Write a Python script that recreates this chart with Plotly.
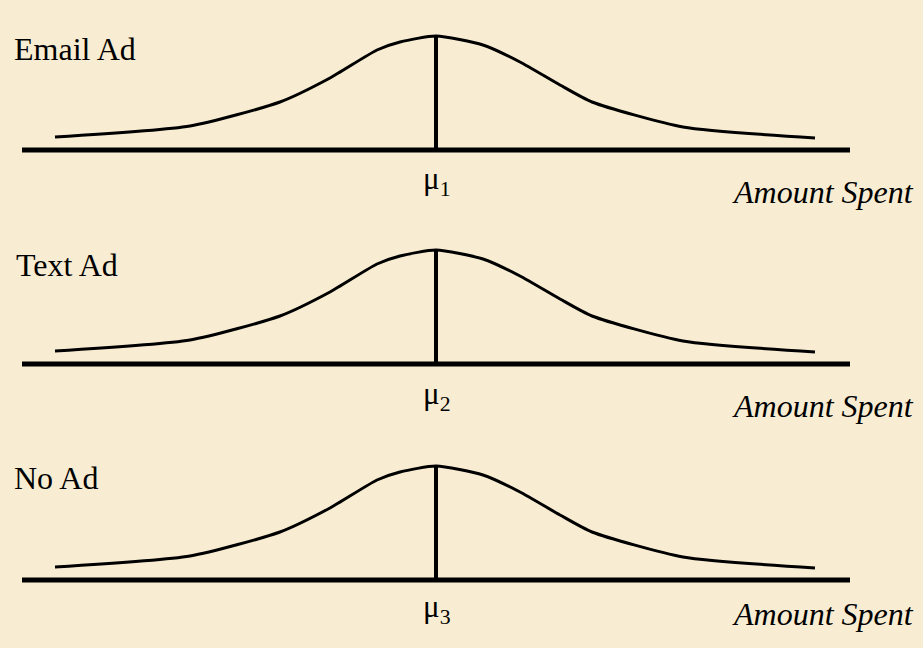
import plotly.graph_objects as go
from plotly.subplots import make_subplots

# Data (amount relative to group mean, curve height)
groups = ["Email Ad", "Text Ad", "No Ad"]
means = ["μ<sub>1</sub>", "μ<sub>2</sub>", "μ<sub>3</sub>"]
amount = [-3.81, -2.46, -1.56, -1.06, -0.59, -0.36, 0.0, 0.47, 0.84, 1.24, 1.56, 2.47, 3.79]
density = [0.13, 0.24, 0.48, 0.72, 1.00, 1.08, 1.14, 1.05, 0.88, 0.65, 0.48, 0.23, 0.12]
axis_span = [-4.14, 4.14]
peak = 1.14
axis_title = "Amount Spent"

W, H = 923, 648
row_px = [(0, 214), (214, 430), (430, 648)]
base_px = [150, 364, 580]

fig = make_subplots(rows=3, cols=1, vertical_spacing=0)

for i in range(3):
    r = i + 1
    fig.add_trace(go.Scatter(x=amount, y=density, mode="lines",
                             line=dict(color="black", width=3, shape="spline", smoothing=0.6),
                             hoverinfo="skip", showlegend=False), row=r, col=1)
    fig.add_trace(go.Scatter(x=axis_span, y=[0, 0], mode="lines",
                             line=dict(color="black", width=5),
                             hoverinfo="skip", showlegend=False), row=r, col=1)
    fig.add_trace(go.Scatter(x=[0, 0], y=[0, peak], mode="lines",
                             line=dict(color="black", width=4),
                             hoverinfo="skip", showlegend=False), row=r, col=1)

    top, bot = row_px[i]
    yb = base_px[i]
    yname = "yaxis" if i == 0 else f"yaxis{r}"
    xname = "xaxis" if i == 0 else f"xaxis{r}"
    fig.layout[yname].update(domain=[1 - bot / H, 1 - top / H],
                             range=[-(bot - yb) / 100, (yb - top) / 100],
                             visible=False, fixedrange=True)
    fig.layout[xname].update(domain=[0, 1], range=[-4.36, (W - 436) / 100],
                             visible=False, fixedrange=True)

label_px = [(12, 49), (14, 265), (12, 478)]
mu_py = [181, 396, 609]
title_py = [192, 406, 614]
for i in range(3):
    lx, ly = label_px[i]
    fig.add_annotation(text=groups[i], xref="paper", yref="paper",
                       x=lx / W, y=1 - ly / H, xanchor="left", yanchor="middle",
                       showarrow=False,
                       font=dict(family="Liberation Serif", size=32, color="black"))
    fig.add_annotation(text=means[i], xref="paper", yref="paper",
                       x=436 / W, y=1 - mu_py[i] / H, xanchor="center", yanchor="middle",
                       showarrow=False,
                       font=dict(family="Liberation Serif", size=31, color="black"))
    fig.add_annotation(text=f"<i>{axis_title}</i>", xref="paper", yref="paper",
                       x=916 / W, y=1 - title_py[i] / H, xanchor="right", yanchor="middle",
                       showarrow=False,
                       font=dict(family="Liberation Serif", size=32, color="black"))

fig.update_layout(width=W, height=H, margin=dict(l=0, r=0, t=0, b=0),
                  paper_bgcolor="#F8EDD2", plot_bgcolor="rgba(0,0,0,0)",
                  showlegend=False)

fig.write_html("out.html", config={"displayModeBar": False},
               post_script="document.body.style.margin='0';document.body.style.background='#F8EDD2';")
